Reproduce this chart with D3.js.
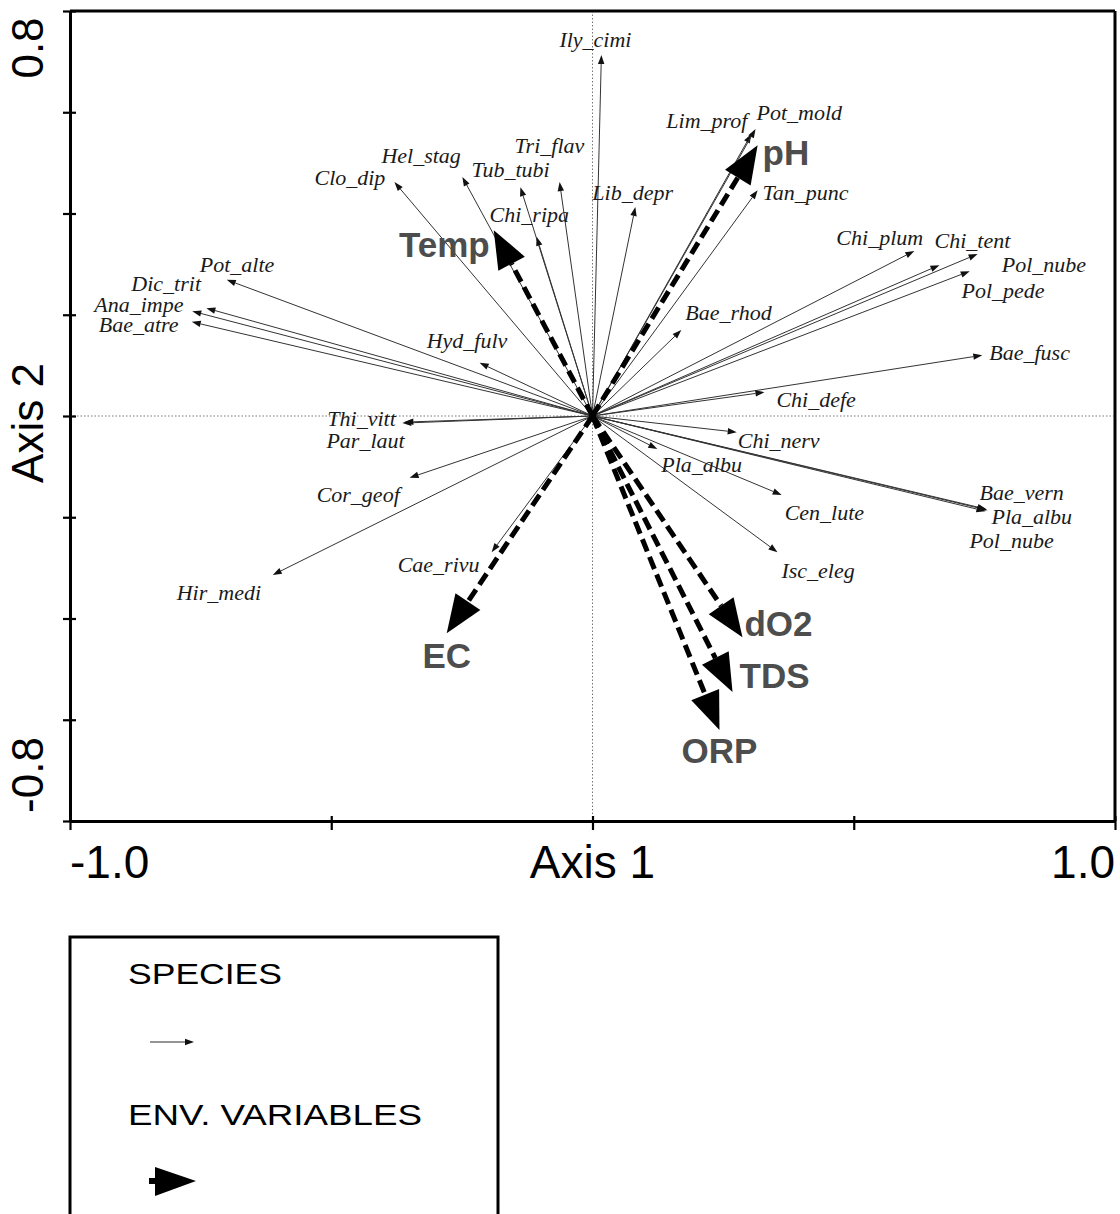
<!DOCTYPE html>
<html>
<head>
<meta charset="utf-8">
<script src="https://cdn.jsdelivr.net/npm/d3@7"></script>
<style>
  html, body { margin: 0; padding: 0; background: #fff; }
  svg { display: block; }
</style>
</head>
<body>
<svg id="chart" width="1120" height="1214"></svg>
<script>
// ---------------- DATA ----------------
const speciesNames = [
  "Ily_cimi","Lim_prof","Pot_mold","Tan_punc","Chi_plum","Chi_tent","Pol_nube","Pol_pede",
  "Bae_fusc","Chi_defe","Bae_rhod","Lib_depr","Tri_flav","Tub_tubi","Chi_ripa","Hel_stag",
  "Clo_dip","Hyd_fulv","Pot_alte","Dic_trit","Ana_impe","Bae_atre","Thi_vitt","Par_laut",
  "Cor_geof","Hir_medi","Cae_rivu","Chi_nerv","Pla_albu","Cen_lute","Isc_eleg","Bae_vern",
  "Pla_albu","Pol_nube"
];
const speciesAxis1 = [
  0.017, 0.304, 0.312, 0.316, 0.616, 0.737, 0.722, 0.664,
  0.746, 0.329, 0.170, 0.082, -0.063, -0.138, -0.107, -0.249,
  -0.379, -0.216, -0.700, -0.739, -0.766, -0.767, -0.364, -0.360,
  -0.350, -0.612, -0.193, 0.276, 0.124, 0.362, 0.354, 0.756,
  0.754, 0.752
];
const speciesAxis2 = [
  0.713, 0.557, 0.567, 0.446, 0.326, 0.320, 0.286, 0.298,
  0.120, 0.047, 0.170, 0.413, 0.462, 0.452, 0.354, 0.472,
  0.462, 0.105, 0.269, 0.213, 0.207, 0.186, -0.014, -0.012,
  -0.122, -0.314, -0.269, -0.032, -0.065, -0.156, -0.269, -0.186,
  -0.184, -0.188
];
const envNames = ["pH","Temp","EC","dO2","TDS","ORP"];
const envAxis1 = [0.316, -0.189, -0.279, 0.287, 0.268, 0.243];
const envAxis2 = [0.535, 0.367, -0.429, -0.437, -0.545, -0.620];

const xTickValues = [-1, -0.5, 0, 0.5, 1];
const yTickValues = [-0.8, -0.6, -0.4, -0.2, 0, 0.2, 0.4, 0.6, 0.8];
const xTickLabels = ["-1.0", "1.0"];
const yTickLabels = ["-0.8", "0.8"];
const axisTitles = ["Axis 1", "Axis 2"];
const legendLabels = ["SPECIES", "ENV. VARIABLES"];

// ---------------- LAYOUT (label offsets in px from arrow tip) ----------------
const speciesLabelDx = [-42,-85,1,5,-78,-43,32,22, 7,12,4,-43,-45,-49,-47,-81, -80,-53,-27,-75,-98,-93,-75,-78, -93,-96,-94,1,4,3,4,-8, 5,-16];
const speciesLabelDy = [-8,-6,-9,10,-6,-6,1,33, 5,15,-10,-7,-29,-10,-15,-14, 3,-15,-8,-17,1,10,3,26, 24,25,20,16,23,25,26,-10, 15,37];
const envLabelDx = [5,-4,0,2,7,0];
const envLabelDy = [20,27,35,-1,-4,33];
const envLabelAnchor = ["start","end","middle","start","start","middle"];

// ---------------- CHART ----------------
const svg = d3.select("#chart");
const x = d3.scaleLinear().domain([-1, 1]).range([70, 1115]);
const y = d3.scaleLinear().domain([-0.8, 0.8]).range([821, 11]);
const ox = x(0), oy = y(0);

// zero lines
svg.append("line").attr("x1", x(-1)).attr("x2", x(1)).attr("y1", oy).attr("y2", oy)
  .attr("stroke", "#777").attr("stroke-width", 1).attr("stroke-dasharray", "1.5,2");
svg.append("line").attr("x1", ox).attr("x2", ox).attr("y1", y(0.8)).attr("y2", y(-0.8))
  .attr("stroke", "#777").attr("stroke-width", 1).attr("stroke-dasharray", "1.5,2");

function head(tx, ty, len, hw) {
  const dx = tx - ox, dy = ty - oy;
  const L = Math.hypot(dx, dy);
  const ux = dx / L, uy = dy / L;
  const bx = tx - ux * len, by = ty - uy * len;
  const px = -uy, py = ux;
  return { path: `M${tx},${ty}L${bx + px * hw},${by + py * hw}L${bx - px * hw},${by - py * hw}Z`, bx, by };
}

// species arrows
const sp = speciesNames.map((n, i) => ({ name: n, a1: speciesAxis1[i], a2: speciesAxis2[i], dx: speciesLabelDx[i], dy: speciesLabelDy[i] }));
const gs = svg.append("g");
sp.forEach(d => {
  const tx = x(d.a1), ty = y(d.a2);
  const h = head(tx, ty, 9, 3.2);
  gs.append("line").attr("x1", ox).attr("y1", oy).attr("x2", h.bx).attr("y2", h.by)
    .attr("stroke", "#333").attr("stroke-width", 1);
  gs.append("path").attr("d", h.path).attr("fill", "#111");
});

// env arrows
const env = envNames.map((n, i) => ({ name: n, a1: envAxis1[i], a2: envAxis2[i], dx: envLabelDx[i], dy: envLabelDy[i], anchor: envLabelAnchor[i] }));
const ge = svg.append("g");
env.forEach(d => {
  const tx = x(d.a1), ty = y(d.a2);
  const h = head(tx, ty, 38, 15);
  ge.append("line").attr("x1", ox).attr("y1", oy).attr("x2", h.bx).attr("y2", h.by)
    .attr("stroke", "#000").attr("stroke-width", 5).attr("stroke-dasharray", "13,6");
  ge.append("path").attr("d", h.path).attr("fill", "#000");
});

// species labels
svg.append("g").selectAll("text").data(sp).join("text")
  .attr("x", d => x(d.a1) + d.dx).attr("y", d => y(d.a2) + d.dy)
  .attr("font-family", "'Liberation Serif', 'Times New Roman', serif")
  .attr("font-style", "italic").attr("font-size", 22).attr("fill", "#1a1a1a")
  .text(d => d.name);

// env labels
svg.append("g").selectAll("text").data(env).join("text")
  .attr("x", d => x(d.a1) + d.dx).attr("y", d => y(d.a2) + d.dy)
  .attr("text-anchor", d => d.anchor)
  .attr("font-family", "'Liberation Sans', Arial, sans-serif")
  .attr("font-weight", "bold").attr("font-size", 35).attr("fill", "#4d4d4d")
  .text(d => d.name);

// axes
const leftAxis = svg.append("g").attr("transform", `translate(${x(-1)},0)`)
  .call(d3.axisLeft(y).tickValues(yTickValues).tickSize(7).tickSizeOuter(0).tickFormat(""));
leftAxis.selectAll(".tick line").attr("x1", 6).attr("stroke-width", 2.2);
leftAxis.select(".domain").attr("stroke-width", 3);
const bottomAxis = svg.append("g").attr("transform", `translate(0,${y(-0.8)})`)
  .call(d3.axisBottom(x).tickValues(xTickValues).tickSize(9).tickSizeOuter(0).tickFormat(""));
bottomAxis.selectAll(".tick line").attr("y1", -5).attr("stroke-width", 2.2);
bottomAxis.select(".domain").attr("stroke-width", 3);
// top and right frame
svg.append("line").attr("x1", x(-1)).attr("x2", x(1)).attr("y1", y(0.8)).attr("y2", y(0.8)).attr("stroke", "#000").attr("stroke-width", 3);
svg.append("line").attr("x1", x(1)).attr("x2", x(1)).attr("y1", y(0.8)).attr("y2", y(-0.8)).attr("stroke", "#000").attr("stroke-width", 3);

const axFont = "'Liberation Sans', Arial, sans-serif";
// x tick labels & title
svg.append("text").attr("x", x(-1)).attr("y", 878).attr("font-family", axFont).attr("font-size", 46).attr("text-anchor", "start").text(xTickLabels[0]);
svg.append("text").attr("x", x(1)).attr("y", 878).attr("font-family", axFont).attr("font-size", 46).attr("text-anchor", "end").text(xTickLabels[1]);
svg.append("text").attr("x", x(0)).attr("y", 878).attr("font-family", axFont).attr("font-size", 46).attr("text-anchor", "middle").text(axisTitles[0]);
// y tick labels & title (rotated)
function vtext(t, cy) {
  svg.append("text").attr("transform", `translate(43,${cy}) rotate(-90)`)
    .attr("font-family", axFont).attr("font-size", 44).attr("text-anchor", "middle").text(t);
}
vtext(yTickLabels[1], 48);
vtext(yTickLabels[0], 775);
vtext(axisTitles[1], 423);

// legend
svg.append("rect").attr("x", 70).attr("y", 937).attr("width", 428).attr("height", 320)
  .attr("fill", "none").attr("stroke", "#000").attr("stroke-width", 3);
svg.append("text").attr("x", 128).attr("y", 984).attr("font-family", axFont).attr("font-size", 30)
  .attr("textLength", 154).attr("lengthAdjust", "spacingAndGlyphs").text(legendLabels[0]);
svg.append("text").attr("x", 128).attr("y", 1125).attr("font-family", axFont).attr("font-size", 30)
  .attr("textLength", 294).attr("lengthAdjust", "spacingAndGlyphs").text(legendLabels[1]);
svg.append("line").attr("x1", 150).attr("x2", 186).attr("y1", 1042).attr("y2", 1042).attr("stroke", "#2a2a2a").attr("stroke-width", 1);
svg.append("path").attr("d", "M194,1042L185,1038.8L185,1045.2Z").attr("fill", "#111");
svg.append("line").attr("x1", 149).attr("x2", 158).attr("y1", 1181).attr("y2", 1181).attr("stroke", "#000").attr("stroke-width", 6);
svg.append("path").attr("d", "M196,1181L155,1167L155,1196Z").attr("fill", "#000");
</script>
</body>
</html>
